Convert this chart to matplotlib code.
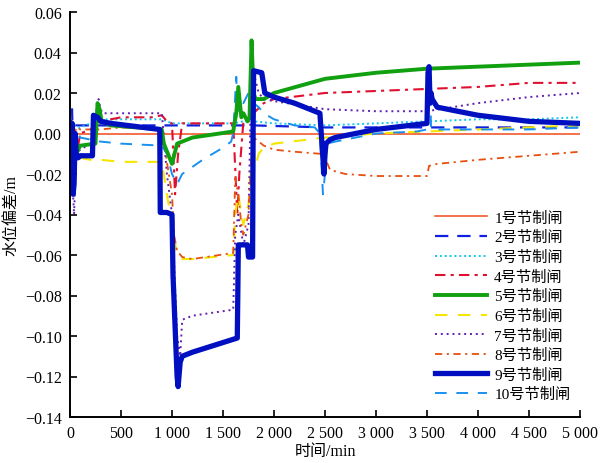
import matplotlib
matplotlib.use("Agg")
import matplotlib.pyplot as plt
from matplotlib.ticker import FuncFormatter, MultipleLocator

plt.rcParams['font.family'] = ['Liberation Serif', 'Noto Sans CJK SC']
plt.rcParams['axes.unicode_minus'] = True

labels = ["1号节制闸", "2号节制闸", "3号节制闸", "4号节制闸", "5号节制闸",
          "6号节制闸", "7号节制闸", "8号节制闸", "9号节制闸", "10号节制闸"]

t1 = [0, 5000]
v1 = [0, 0]

t2 = [0, 20, 40, 60, 100, 200, 300, 900, 1000, 1600, 1700, 1800, 2500, 3500, 5000]
v2 = [0, 0.012, -0.03, 0.004, 0.004, 0.004, 0.004, 0.004, 0.004, 0.004, 0.004, 0.004, 0.003, 0.003, 0.003]

t3 = [0, 100, 300, 500, 900, 1000, 1600, 1700, 1800, 2000, 2500, 3000, 3500, 4000, 4500, 5000]
v3 = [0, 0.003, 0.007, 0.007, 0.007, 0.005, 0.005, 0.006, 0.006, 0.005, 0.004, 0.005, 0.006, 0.007, 0.007, 0.008]

t4 = [0, 50, 100, 250, 300, 500, 800, 900, 950, 1000, 1030, 1060, 1100, 1600, 1640, 1660, 1700, 1750,
      1800, 1900, 2000, 2500, 3000, 3500, 4000, 4500, 5000]
v4 = [0, -0.015, 0, 0.003, 0.006, 0.008, 0.008, 0.009, 0.006, 0.005, -0.03, -0.01, 0.005, 0.005, -0.04,
      -0.02, 0.006, 0.006, 0.01, 0.015, 0.017, 0.02, 0.021, 0.022, 0.023, 0.025, 0.025]

t5 = [0, 30, 60, 100, 250, 270, 290, 310, 400, 900, 920, 960, 1000, 1050, 1100, 1200, 1600, 1630,
      1650, 1680, 1700, 1740, 1760, 1780, 1800, 1820, 1900, 2000, 2500, 3000, 3500, 4000, 4500, 5000]
v5 = [0, -0.005, -0.01, -0.006, -0.005, 0.015, 0.012, 0.006, 0.004, 0.002, -0.005, -0.01, -0.015,
      -0.005, -0.004, -0.002, 0.001, 0.01, 0.023, 0.008, 0.01, 0.006, 0.008, 0.046, 0.02, 0.017,
      0.017, 0.02, 0.027, 0.03, 0.032, 0.033, 0.034, 0.035]

t6 = [0, 30, 60, 100, 200, 300, 500, 900, 950, 1000, 1050, 1100, 1200, 1600, 1620, 1650, 1680, 1700,
      1750, 1780, 1800, 1850, 1900, 2000, 2500, 3000, 3500, 4000, 4500, 5000]
v6 = [0, 0.005, -0.01, -0.012, -0.013, -0.013, -0.014, -0.014, -0.03, -0.045, -0.06, -0.062, -0.062,
      -0.06, -0.04, -0.03, -0.04, -0.045, -0.035, -0.015, -0.02, -0.01, -0.007, -0.005, -0.002, 0,
      0.001, 0.002, 0.003, 0.004]

t7 = [0, 20, 40, 60, 100, 200, 280, 300, 320, 400, 900, 950, 1000, 1050, 1080, 1100, 1200, 1600,
      1620, 1650, 1700, 1750, 1780, 1800, 1850, 1900, 2000, 2500, 3000, 3500, 4000, 4500, 5000]
v7 = [0, -0.02, -0.04, -0.01, -0.008, -0.005, 0.017, 0.012, 0.01, 0.01, 0.01, -0.02, -0.04, -0.1,
      -0.11, -0.092, -0.09, -0.087, -0.05, -0.04, -0.055, -0.045, 0.04, 0.03, 0.02, 0.017, 0.016,
      0.012, 0.011, 0.011, 0.015, 0.018, 0.02]

t8 = [0, 30, 60, 100, 300, 500, 900, 1000, 1020, 1050, 1100, 1200, 1600, 1620, 1650, 1680, 1700,
      1750, 1780, 1800, 1850, 1900, 2000, 2200, 2450, 2500, 2550, 2700, 3000, 3500, 3520, 3600,
      4000, 4500, 5000]
v8 = [0, -0.005, 0.003, 0.002, 0.002, 0.003, 0.002, -0.03, -0.05, -0.058, -0.061, -0.062, -0.059,
      -0.022, -0.03, -0.045, -0.05, -0.04, -0.01, -0.002, -0.004, -0.006, -0.008, -0.009, -0.01,
      -0.012, -0.018, -0.02, -0.021, -0.021, -0.016, -0.015, -0.013, -0.011, -0.009]

t9 = [0, 10, 20, 30, 40, 50, 60, 80, 100, 150, 220, 230, 270, 300, 400, 880, 885, 950, 1000, 1010,
      1050, 1060, 1080, 1100, 1200, 1640, 1645, 1650, 1700, 1740, 1750, 1790, 1795, 1800, 1880,
      1910, 2000, 2200, 2450, 2470, 2490, 2500, 2510, 2550, 2600, 3000, 3500, 3510, 3520, 3530,
      3540, 3550, 3600, 3800, 4000, 4500, 5000]
v9 = [0, -0.01, 0.005, -0.03, -0.025, 0.0, -0.01, -0.012, -0.011, -0.011, -0.011, 0.009, 0.008,
      0.006, 0.005, 0.002, -0.039, -0.039, -0.04, -0.07, -0.12, -0.125, -0.113, -0.11, -0.108,
      -0.101, -0.08, -0.055, -0.055, -0.055, -0.061, -0.061, 0.0, 0.031, 0.03, 0.02, 0.018, 0.015,
      0.01, -0.005, -0.02, -0.01, -0.005, -0.003, -0.002, 0.002, 0.005, 0.03, 0.033, 0.015, 0.02,
      0.017, 0.013, 0.011, 0.009, 0.006, 0.005]

t10 = [0, 20, 40, 60, 100, 200, 300, 500, 900, 950, 1000, 1050, 1100, 1300, 1500, 1580, 1600, 1630,
       1645, 1660, 1700, 1750, 1800, 1850, 1900, 2000, 2200, 2400, 2450, 2480, 2500, 2520, 2600,
       3000, 3400, 3500, 3525, 3540, 3600, 4000, 4500, 5000]
v10 = [0, -0.01, 0.005, 0.002, -0.002, -0.003, -0.004, -0.005, -0.006, -0.01, -0.02, -0.025, -0.02,
       -0.013, -0.007, -0.004, 0.0, 0.028, 0.01, 0.018, 0.015, 0.02, 0.015, 0.013, 0.01, 0.007,
       0.004, 0.003, 0.0, -0.03, -0.02, -0.005, -0.004, 0.0, 0.001, 0.002, 0.034, 0.002, 0.002,
       0.002, 0.002, 0.003]

series = [(t1, v1), (t2, v2), (t3, v3), (t4, v4), (t5, v5),
          (t6, v6), (t7, v7), (t8, v8), (t9, v9), (t10, v10)]

styles = [
    dict(color='#F04A1A', lw=1.1, ls='-'),
    dict(color='#1020E0', lw=1.6, ls=(0, (6, 4))),
    dict(color='#10C8F0', lw=1.4, ls=(0, (1, 1.5))),
    dict(color='#E01030', lw=1.5, ls=(0, (5, 2.5, 1.5, 2.5))),
    dict(color='#10A010', lw=2.8, ls='-'),
    dict(color='#F5E600', lw=1.5, ls=(0, (6, 5))),
    dict(color='#6020B0', lw=1.4, ls=(0, (1, 2))),
    dict(color='#E85010', lw=1.3, ls=(0, (4, 2.5, 1.2, 2.5))),
    dict(color='#0010C0', lw=3.8, ls='-'),
    dict(color='#1890F0', lw=1.4, ls=(0, (6, 5))),
]

fig = plt.figure(figsize=(6.05, 4.64), dpi=100)
ax = fig.add_axes([70/605, 1-418/464, 510/605, 405/464])

order = [0, 1, 2, 3, 5, 6, 7, 9, 4, 8]
lines = [None]*10
for i in order:
    t, v = series[i]
    ln, = ax.plot(t, v, label=labels[i], **styles[i])
    lines[i] = ln

ax.set_xlim(0, 5000)
ax.set_ylim(-0.14, 0.06)
ax.xaxis.set_major_locator(MultipleLocator(500))
ax.yaxis.set_major_locator(MultipleLocator(0.02))

def xfmt(v, pos):
    n = int(round(v))
    if n >= 1000:
        return f"{n//1000} {n%1000:03d}"
    return str(n)

def yfmt(v, pos):
    return f"{v:.2f}".replace('-', '\u2212')

ax.xaxis.set_major_formatter(FuncFormatter(xfmt))
ax.yaxis.set_major_formatter(FuncFormatter(yfmt))

for s in ['top', 'right']:
    ax.spines[s].set_visible(False)
for s in ['left', 'bottom']:
    ax.spines[s].set_linewidth(1.4)
ax.tick_params(direction='in', length=5, width=1.2, labelsize=11.5, pad=6)

ax.set_xlabel("时间/min", fontsize=11.5, labelpad=1)
ax.set_ylabel("水位偏差/m", fontsize=11.5, labelpad=4)

ax.legend(lines, labels, loc='upper left', bbox_to_anchor=(427/605, 1-204/464),
          bbox_transform=fig.transFigure, frameon=False, fontsize=11,
          handlelength=3.4, handletextpad=0.5, labelspacing=0.36, borderpad=0)

fig.savefig("out.png", dpi=100)
